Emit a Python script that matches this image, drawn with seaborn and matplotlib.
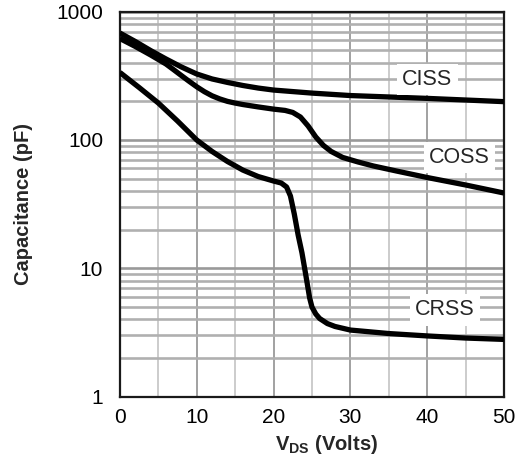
import numpy as np
import pandas as pd
import matplotlib
matplotlib.use("Agg")
import matplotlib.pyplot as plt
from matplotlib.ticker import LogLocator, FixedLocator, NullFormatter
import seaborn as sns

# Drain-source voltage (V) and capacitance (pF) for each curve
ciss_vds = [0, 2, 4, 6, 8, 10, 12, 14, 16, 18, 20, 25, 30, 40, 50]
ciss_pf = [682, 586, 498, 428, 371, 327, 299, 281, 266, 254, 245, 232, 222, 211, 199]

coss_vds = [0, 2, 4, 6, 7, 8, 9, 10, 11, 12, 13, 14, 15, 16, 18, 20, 21.5, 22.5,
            23.5, 24.5, 25.5, 26.5, 27.5, 29, 31, 33, 36, 40, 45, 50]
coss_pf = [618, 536, 460, 391, 353, 318, 287, 260, 238, 221, 209, 200, 194, 189,
           181, 174, 170, 164, 151, 128.6, 105.5, 90.6, 81.4, 73.1, 67.4, 62.7,
           57.3, 51.0, 44.6, 38.6]

crss_vds = [0, 2.5, 5, 7.5, 10, 12, 14, 16, 18, 20, 21, 21.7, 22.2, 22.7, 23.2,
            23.7, 24.2, 24.7, 25, 25.5, 26, 27, 28, 30, 35, 40, 45, 50]
crss_pf = [336, 256.6, 194.2, 140.6, 100, 81.4, 68.0, 58.3, 51.9, 47.9, 46.2, 43.0,
           36.6, 26.5, 18.2, 13.2, 8.86, 5.87, 4.99, 4.40, 4.06, 3.71, 3.52, 3.30,
           3.10, 2.97, 2.86, 2.79]

curve_names = ["CISS", "COSS", "CRSS"]
label_x = [40.0, 44.2, 42.3]
label_y = [296, 73, 4.73]

frames = []
for name, vx, cy in zip(curve_names, [ciss_vds, coss_vds, crss_vds],
                        [ciss_pf, coss_pf, crss_pf]):
    frames.append(pd.DataFrame({"VDS": vx, "C": cy, "curve": name}))
df = pd.concat(frames, ignore_index=True)

sns.set_theme(style="white")
plt.rcParams["font.family"] = ["Liberation Sans", "DejaVu Sans"]
plt.rcParams["mathtext.fontset"] = "custom"
plt.rcParams["mathtext.rm"] = "Liberation Sans"
plt.rcParams["mathtext.bf"] = "Liberation Sans:bold"

fig = plt.figure(figsize=(5.21, 4.62), dpi=100)
ax = fig.add_axes([0.2301, 0.1416, 0.7373, 0.8331])

sns.lineplot(data=df, x="VDS", y="C", units="curve", estimator=None, sort=False,
             color="black", linewidth=3.8, ax=ax, legend=False)
for ln in ax.get_lines():
    ln.set_solid_joinstyle("round")
    ln.set_solid_capstyle("butt")
    ln.set_zorder(3)

ax.set_yscale("log")
ax.set_xlim(0, 50)
ax.set_ylim(1, 1000)

# grid: light lines every 5 V, darker every 10 V, log minor lines on y
ax.xaxis.set_major_locator(FixedLocator([0, 10, 20, 30, 40, 50]))
ax.xaxis.set_minor_locator(FixedLocator([5, 15, 25, 35, 45]))
ax.yaxis.set_major_locator(FixedLocator([1, 10, 100, 1000]))
ax.yaxis.set_minor_locator(LogLocator(base=10, subs=np.arange(2, 10), numticks=20))
ax.yaxis.set_minor_formatter(NullFormatter())
ax.set_yticklabels(["1", "10", "100", "1000"])

ax.grid(which="major", axis="x", color="#9a9a9a", linewidth=1.3, zorder=0)
ax.grid(which="minor", axis="x", color="#c8c8c8", linewidth=1.3, zorder=0)
ax.grid(which="major", axis="y", color="#999999", linewidth=1.9, zorder=0)
ax.grid(which="minor", axis="y", color="#b0b0b0", linewidth=1.9, zorder=0)
ax.set_axisbelow(True)

ax.tick_params(which="both", length=0)
ax.tick_params(axis="y", labelsize=15, pad=12, colors="black")
ax.tick_params(axis="x", labelsize=15, pad=8, colors="black")

for sp in ax.spines.values():
    sp.set_color("#1a1a1a")
    sp.set_linewidth(1.6)
    sp.set_visible(True)

ax.set_xlabel(r"$\mathbf{V_{DS}}$ (Volts)", fontsize=14.5, fontweight="bold")
ax.set_ylabel("Capacitance (pF)", fontsize=14.5, fontweight="bold")
ax.xaxis.set_label_coords(0.538, -0.095)
ax.yaxis.set_label_coords(-0.225, 0.5)

for name, lx, ly in zip(curve_names, label_x, label_y):
    ax.text(lx, ly, name, fontsize=15.5, ha="center", va="center", zorder=4,
            bbox=dict(boxstyle="square,pad=0.25", facecolor="white", edgecolor="none"))

fig.savefig("out.png", dpi=100)
